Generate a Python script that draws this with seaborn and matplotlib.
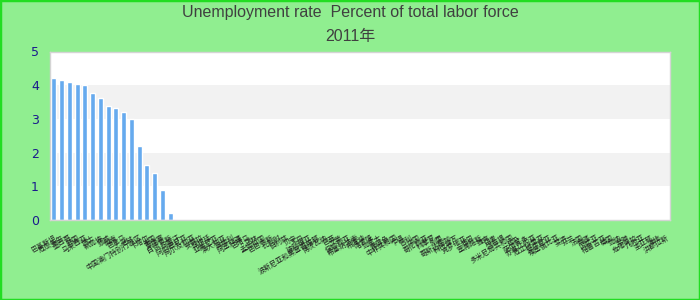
import matplotlib
matplotlib.use("Agg")
import matplotlib.pyplot as plt
import seaborn as sns
import pandas as pd
from matplotlib.patches import Rectangle

# ---- data ----
countries = [
    '巴基斯坦', '厄瓜多尔', '墨西哥', '韩国', '马来西亚', '瑞士', '新加坡', '挪威',
    '越南', '巴拿马', '老挝', '中国澳门特别行政区', '卡塔尔', '泰国', '柬埔寨', '白俄罗斯',
    '阿富汗', '阿尔巴尼亚', '阿尔及利亚', '安哥拉', '阿根廷', '亚美尼亚', '澳大利亚', '奥地利',
    '阿塞拜疆', '巴哈马', '巴林', '孟加拉国', '巴巴多斯', '比利时', '伯利兹', '贝宁',
    '不丹', '玻利维亚', '波斯尼亚和黑塞哥维那', '博茨瓦纳', '巴西', '文莱', '保加利亚', '布基纳法索',
    '布隆迪', '喀麦隆', '加拿大', '佛得角', '中非共和国', '乍得', '智利', '中国',
    '哥伦比亚', '科摩罗', '刚果', '哥斯达黎加', '科特迪瓦', '克罗地亚', '古巴', '塞浦路斯',
    '捷克', '丹麦', '吉布提', '多米尼加共和国', '埃及', '萨尔瓦多', '赤道几内亚', '厄立特里亚',
    '爱沙尼亚', '埃塞俄比亚', '斐济', '芬兰', '法国', '加蓬', '冈比亚', '格鲁吉亚',
    '德国', '加纳', '希腊', '危地马拉', '几内亚', '圭亚那', '海地', '洪都拉斯',
]
rates = [4.21, 4.15, 4.09, 4.03, 4.00, 3.77, 3.62, 3.38,
         3.32, 3.20, 2.99, 2.19, 1.63, 1.38, 0.89, 0.20]
yticks = [0, 1, 2, 3, 4, 5]
title_line1 = 'Unemployment rate  Percent of total labor force'
title_line2 = '2011年'

df = pd.DataFrame({'country': countries[:len(rates)], 'rate': rates})

sns.set_theme(style='white')
plt.rcParams['font.family'] = ['Liberation Sans', 'Noto Sans CJK SC', 'DejaVu Sans']

bg = '#90ee90'
fig = plt.figure(figsize=(7, 3), dpi=100, facecolor=bg)
ax = fig.add_axes([50 / 700, 80 / 300, 620 / 700, 168.5 / 300])
ax.set_facecolor('white')

for lo, hi in [(1, 2), (3, 4)]:
    ax.axhspan(lo, hi, color='#f2f2f2', zorder=0, lw=0)

sns.barplot(data=df, x='country', y='rate', order=countries, color='#66aaee',
            saturation=1, width=0.66, ax=ax, zorder=2, errorbar=None)

ax.set_ylim(0, 5)
ax.set_xlim(-0.5, len(countries) - 0.5)
ax.set_yticks(yticks)
ax.set_yticklabels([str(v) for v in yticks], color='#1a1a8c', fontsize=9,
                   fontfamily='DejaVu Sans')
ax.tick_params(axis='y', length=0, pad=8)
ax.tick_params(axis='x', length=0, pad=10)
ax.set_xticks(range(len(countries)))
ax.set_xticklabels(countries, rotation=30, ha='right', rotation_mode='anchor',
                   fontsize=5, color='#222222',
                   fontfamily=['Noto Sans CJK SC', 'DejaVu Sans'])
ax.set_xlabel('')
ax.set_ylabel('')
for s in ax.spines.values():
    s.set_color('#d4d4d4')
    s.set_linewidth(1)

fig.text(0.5, 1 - 13 / 300, title_line1, ha='center', va='center',
         fontsize=11.5, color='#404040')
fig.text(0.5, 1 - 37 / 300, title_line2, ha='center', va='center',
         fontsize=11.5, color='#404040')

fig.patches.append(Rectangle((0, 0), 1, 1, transform=fig.transFigure, fill=False,
                             edgecolor='#22dd22', linewidth=2.5, zorder=10))

fig.savefig('out.png', dpi=100, facecolor=bg)
